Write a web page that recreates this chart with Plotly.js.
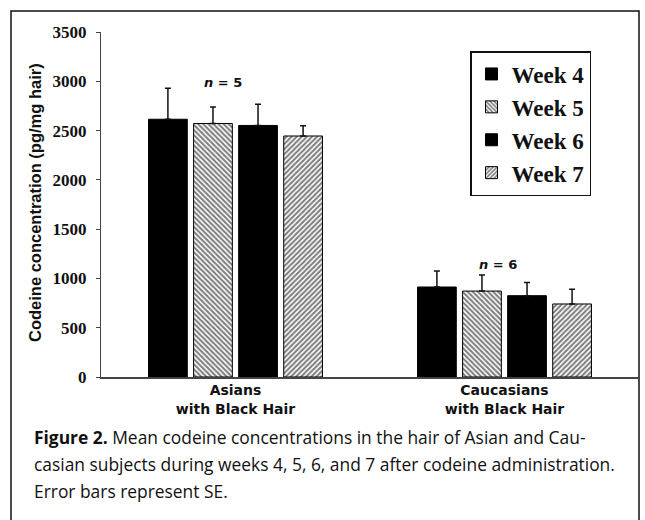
<!DOCTYPE html>
<html>
<head>
<meta charset="utf-8">
<script src="https://cdn.plot.ly/plotly-3.0.1.min.js"></script>
<style>
html,body{margin:0;padding:0;background:#fff;}
#chart{width:645px;height:520px;}
</style>
</head>
<body>
<div id="chart"></div>
<script>
// ---- data ----
const categories = ["Asians<br>with Black Hair", "Caucasians<br>with Black Hair"];
const seriesNames = ["Week 4", "Week 5", "Week 6", "Week 7"];
const week4 = [2615, 913];
const week5 = [2572, 872];
const week6 = [2552, 825];
const week7 = [2445, 741];
const week4SE = [314, 162];
const week5SE = [168, 163];
const week6SE = [215, 133];
const week7SE = [104, 150];
const noLowerError = [0, 0];
const groupNotes = ["<i>n</i> = 5", "<i>n</i> = 6"];
const groupNoteValues = [3000, 1150];
const yTicks = [0, 500, 1000, 1500, 2000, 2500, 3000, 3500];
const yTitle = "Codeine concentration (pg/mg hair)";
const captionLines = [
  "<b>Figure 2.</b> Mean codeine concentrations in the hair of Asian and Cau-",
  "casian subjects during weeks 4, 5, 6, and 7 after codeine administration.",
  "Error bars represent SE."
];

const values = [week4, week5, week6, week7];
const errors = [week4SE, week5SE, week6SE, week7SE];
const patterns = ["", "\\", "", "/"];

const traces = seriesNames.map((name, i) => ({
  type: "bar",
  name: name,
  x: categories,
  y: values[i],
  legendgroup: "g" + i,
  marker: {
    color: patterns[i] ? "#ffffff" : "#000000",
    line: {color: "#000000", width: 1},
    pattern: {shape: patterns[i], fgcolor: "#000000", bgcolor: "#ffffff", size: 3.6, solidity: 0.56, fillmode: "overlay"}
  },
  error_y: {
    type: "data", symmetric: false, array: errors[i], arrayminus: noLowerError,
    color: "#111111", thickness: 1.5, width: 3
  },
  hoverinfo: "x+y+name"
}));

// plot area geometry in px
const W = 645, H = 520, L = 101, R = 6, T = 32, B = 143;
const pw = W - L - R, ph = H - T - B;
const px = x => (x - L) / pw;
const py = y => (H - B - y) / ph;

const noteShift = [-13, -7];
const annotations = [];
groupNotes.forEach((t, i) => {
  annotations.push({
    x: categories[i], y: groupNoteValues[i], xref: "x", yref: "y",
    text: t, showarrow: false, xshift: noteShift[i], yshift: -1,
    font: {family: "DejaVu Sans", size: 13, color: "#111", weight: "bold"}
  });
});
annotations.push({
  x: px(35), y: py(203), xref: "paper", yref: "paper", text: "<b>" + yTitle + "</b>",
  textangle: -90, showarrow: false, xanchor: "center", yanchor: "middle",
  font: {family: "Liberation Sans, Arial", size: 16.5, color: "#111"}
});
const capY = [437, 464, 491];
captionLines.forEach((t, i) => {
  annotations.push({
    x: px(32), y: py(capY[i]), xref: "paper", yref: "paper", text: t,
    showarrow: false, xanchor: "left", yanchor: "middle",
    font: {family: "Open Sans", size: 17.4, color: "#111"}
  });
});

const layout = {
  width: W, height: H,
  margin: {l: L, r: R, t: T, b: B, pad: 0},
  paper_bgcolor: "#ffffff", plot_bgcolor: "#ffffff",
  barmode: "group", bargap: 0.33, bargroupgap: 0.14,
  showlegend: true,
  legend: {
    x: px(470), y: py(51), xanchor: "left", yanchor: "top",
    bgcolor: "#ffffff", bordercolor: "#111", borderwidth: 1.5,
    font: {family: "Liberation Serif, Times New Roman", size: 23, color: "#111", weight: "bold"},
    traceorder: "grouped", tracegroupgap: 0, itemclick: false
  },
  xaxis: {
    range: [-0.5, 1.5], showgrid: false, zeroline: false, showline: true,
    linecolor: "#444", linewidth: 1.5, ticks: "",
    tickfont: {family: "DejaVu Sans", size: 14, color: "#111", weight: "bold"},
    fixedrange: true
  },
  yaxis: {
    range: [0, 3500], tickvals: yTicks, showgrid: false, zeroline: false,
    showline: true, linecolor: "#444", linewidth: 1, ticks: "outside", ticklen: 4,
    tickcolor: "#444", tickwidth: 1, ticklabelstandoff: 6,
    tickfont: {family: "Liberation Serif, Times New Roman", size: 17, color: "#111", weight: "bold"},
    fixedrange: true
  },
  annotations: annotations,
  shapes: [{
    type: "rect", xref: "paper", yref: "paper",
    x0: px(11), x1: px(639), y0: py(530), y1: py(11),
    line: {color: "#111", width: 1.5}, fillcolor: "rgba(0,0,0,0)", layer: "below"
  }]
};

Plotly.newPlot("chart", traces, layout, {displayModeBar: false, staticPlot: true});
</script>
</body>
</html>
